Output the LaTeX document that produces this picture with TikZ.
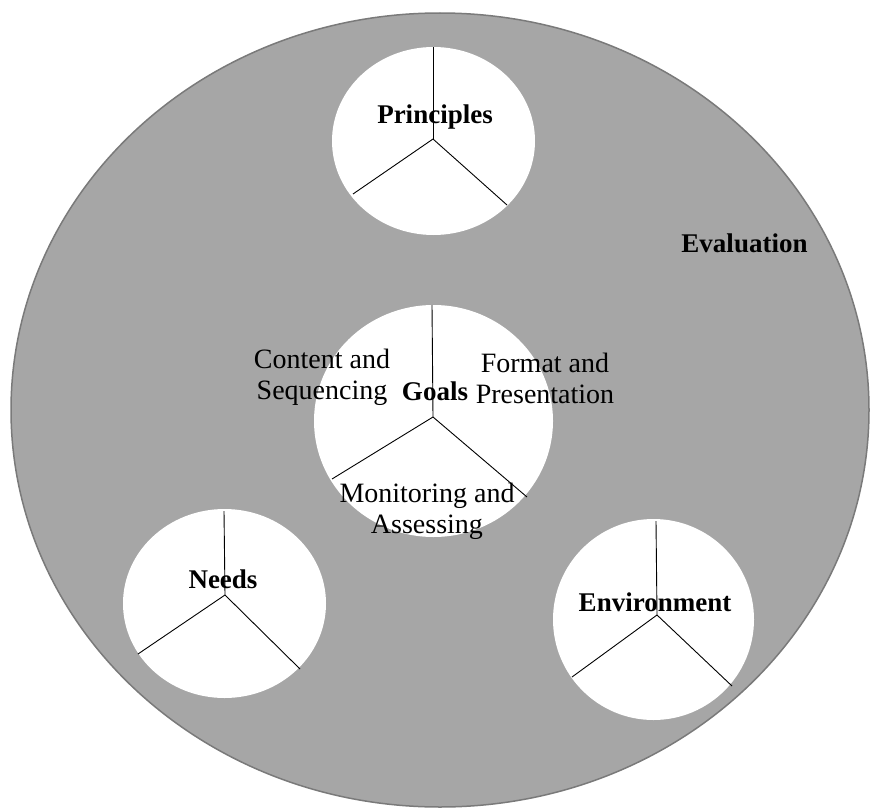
\documentclass[tikz,border=0pt]{standalone}
\usepackage{fontspec}
\setmainfont{Liberation Serif}
\usetikzlibrary{shapes.geometric}
\definecolor{evalgray}{HTML}{A6A6A6}
\definecolor{evaledge}{HTML}{7A7A7A}
\begin{document}
\begin{tikzpicture}[x=1pt,y=-1pt,
  disc/.style={ellipse,fill=white,draw=none,inner sep=0pt},
  spoke/.style={draw=black,line width=0.9pt},
  lbl/.style={font=\fontsize{27}{30.5}\selectfont\bfseries,anchor=base,inner sep=0pt},
  sub/.style={font=\fontsize{28}{30.5}\selectfont,align=center,anchor=base,inner sep=0pt}]
\useasboundingbox (0,0) rectangle (870,808);
% outer evaluation ellipse
\node[ellipse,fill=evalgray,draw=evaledge,line width=1.5pt,minimum width=858pt,minimum height=794pt,inner sep=0pt] (eval) at (440,410) {};
% discs
\node[disc,minimum width=203pt,minimum height=188pt] (princ) at (433.5,141) {};
\node[disc,minimum width=239pt,minimum height=232pt] (goals) at (433.5,421) {};
\node[disc,minimum width=203pt,minimum height=189pt] (needs) at (224.5,603.5) {};
\node[disc,minimum width=201pt,minimum height=201pt] (env) at (653.5,619.5) {};
% hubs and spoke ends
\coordinate (ph) at (433,139); \coordinate (pt) at (433,47); \coordinate (pl) at (353,194); \coordinate (pr) at (507,205);
\coordinate (gh) at (433,417); \coordinate (gt) at (432,305); \coordinate (gl) at (332,479); \coordinate (gr) at (527,497);
\coordinate (nh) at (225,595); \coordinate (nt) at (224,511); \coordinate (nl) at (138,654); \coordinate (nr) at (300,669);
\coordinate (eh) at (657,615); \coordinate (et) at (656,521); \coordinate (el) at (572,677); \coordinate (er) at (732,686);
\foreach \c in {p,g,n,e}{
  \draw[spoke] (\c h) -- (\c t);
  \draw[spoke] (\c h) -- (\c l);
  \draw[spoke] (\c h) -- (\c r);
}
% labels
\node[lbl] (tprinc) at (435,123) {Principles};
\node[lbl] (tgoals) at (435,400) {Goals};
\node[lbl] (tneeds) at (223,588) {Needs};
\node[lbl] (tenv) at (655,611) {Environment};
\node[lbl] (teval) at (744.5,252) {Evaluation};
\node[sub] (tcont) at (322,399) {Content and\\Sequencing};
\node[sub] (tform) at (545,403) {Format and\\Presentation};
\node[sub] (tmon) at (427,533) {Monitoring and\\Assessing};
\end{tikzpicture}
\end{document}
